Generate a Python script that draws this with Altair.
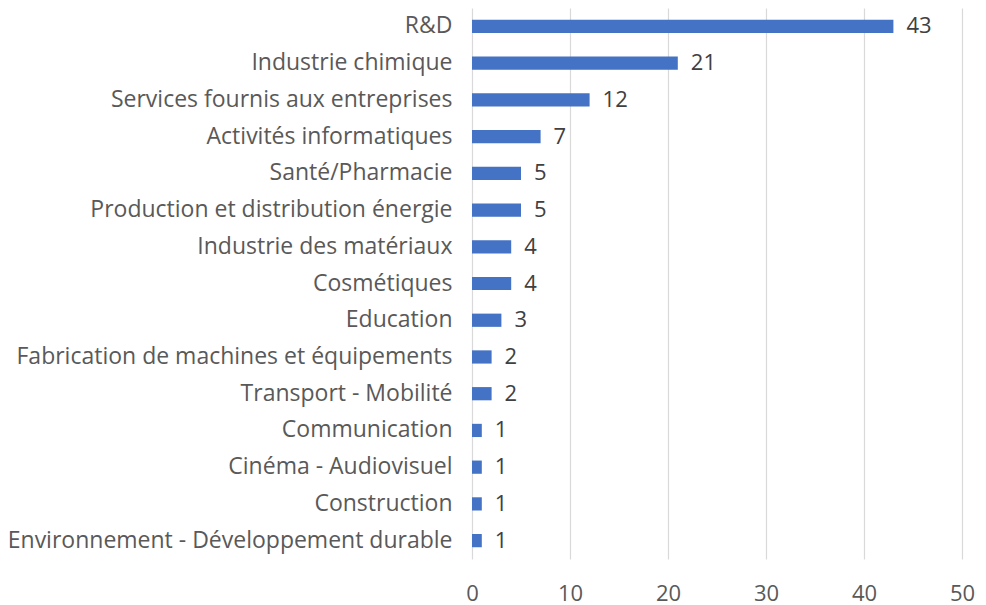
import altair as alt
import pandas as pd

categories = [
    "R&D", "Industrie chimique", "Services fournis aux entreprises",
    "Activités informatiques", "Santé/Pharmacie", "Production et distribution énergie",
    "Industrie des matériaux", "Cosmétiques", "Education",
    "Fabrication de machines et équipements", "Transport - Mobilité",
    "Communication", "Cinéma - Audiovisuel", "Construction",
    "Environnement - Développement durable",
]
values = [43, 21, 12, 7, 5, 5, 4, 4, 3, 2, 2, 1, 1, 1, 1]
x_ticks = [0, 10, 20, 30, 40, 50]

df = pd.DataFrame({"cat": categories, "val": values})
FONT = "Open Sans"

y_enc = alt.Y("cat:N", sort=categories, title=None,
              scale=alt.Scale(paddingInner=0.64, paddingOuter=0.32),
              axis=alt.Axis(labelFont=FONT, labelFontSize=23, labelColor="#595959",
                            labelPadding=20, ticks=False, domain=False, labelLimit=600))
x_enc = alt.X("val:Q", title=None,
              scale=alt.Scale(domain=[0, 50], nice=False),
              axis=alt.Axis(values=x_ticks, labelFont=FONT, labelFontSize=22,
                            labelColor="#595959", labelPadding=24, ticks=False,
                            labelFlush=False, labelOverlap=False,
                            domain=False, gridColor="#d9d9d9", gridWidth=1.2))

bars = alt.Chart(df).mark_bar(color="#4472C4").encode(x=x_enc, y=y_enc)
labels = alt.Chart(df).mark_text(align="left", baseline="middle", dx=13,
                                 font=FONT, fontSize=22, color="#404040").encode(
    x="val:Q", y=alt.Y("cat:N", sort=categories), text="val:Q")

chart = (bars + labels).properties(
    width=490, height=551,
    autosize=alt.AutoSizeParams(type="none"),
    padding={"left": 464, "top": 0, "right": 16, "bottom": 46},
).configure_view(stroke=None)

chart.save("out.html", embed_options={"renderer": "svg", "actions": False})
